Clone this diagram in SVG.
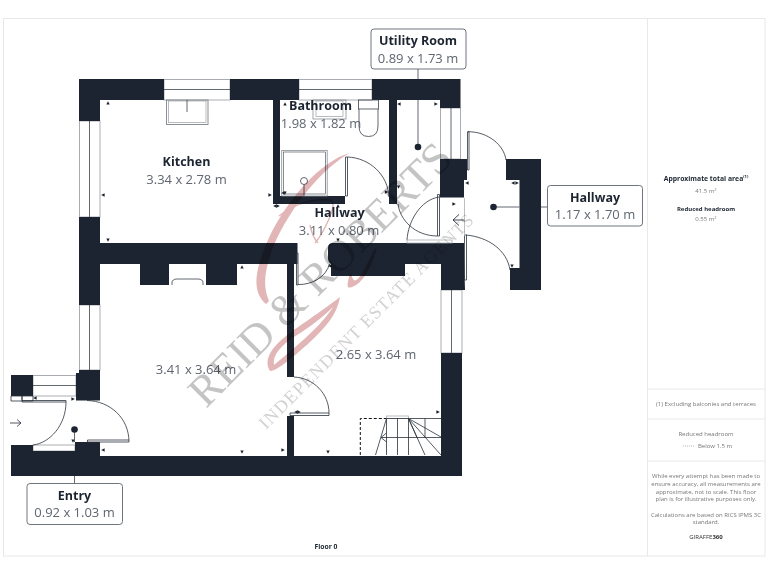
<svg xmlns="http://www.w3.org/2000/svg" width="768" height="576" viewBox="0 0 768 576">
<style>
.w{fill:#1b2430}
.g{fill:#fff;stroke:#a9adb2;stroke-width:1}
.l{fill:none;stroke:#3a424d;stroke-width:.8}
.e{fill:none;stroke:#e8e8e8;stroke-width:1}
text{font-family:"Open Sans","Liberation Sans",sans-serif;text-anchor:middle}
.n{font-size:12.5px;font-weight:700;fill:#1b2430}
.d{font-size:13px;fill:#5f6670}
.b{fill:#fff;stroke:#4a525c;stroke-width:.8}
.s{font-size:6px;fill:#777}
.h{font-size:6.8px;font-weight:700;fill:#1b2430}
.wm{font-family:"Liberation Serif",serif;fill:#c4c4c4}
.p{fill:#e2b5b7;stroke:none}
.ps{fill:none;stroke:#e2b5b7;stroke-width:1.4}
</style>
<defs>
<polygon id="tu" points="0,-1.8 -1.7,1.6 1.7,1.6" fill="#1b2430"/>
<polygon id="td" points="0,1.8 -1.7,-1.6 1.7,-1.6" fill="#1b2430"/>
<polygon id="tl" points="-1.8,0 1.6,-1.7 1.6,1.7" fill="#1b2430"/>
<polygon id="tr" points="1.8,0 -1.6,-1.7 -1.6,1.7" fill="#1b2430"/>
</defs>
<rect width="768" height="576" fill="#fff"/>
<g id="sheet">
<rect class="e" x="3.5" y="18.5" width="761.5" height="537.5"/>
<path class="e" d="M647.5 18V556M647.5 389H765M647.5 419H765M647.5 461H765"/>
</g>
<g id="windows">
<rect class="g" x="164" y="79.5" width="66" height="20.5"/><path class="l" d="M164 89.5H230"/>
<rect class="g" x="79.5" y="121" width="20.5" height="96"/><path class="l" d="M89.5 121V217"/>
<rect class="g" x="299" y="79.5" width="73" height="20.5"/><path class="l" d="M299 89.5H372"/>
<rect class="g" x="440.5" y="108" width="20" height="51"/><path class="l" d="M451 108V159"/>
<rect class="g" x="441" y="290" width="21" height="63"/><path class="l" d="M451.5 290V353"/>
<rect class="g" x="79.5" y="305" width="20.5" height="65"/><path class="l" d="M89.5 305V370"/>
<rect class="g" x="33" y="375.5" width="43" height="20.5"/><path class="l" d="M33 385.5H76"/>
<rect class="g" x="33" y="445" width="42" height="6"/>
</g>
<g id="walls">
<path class="w" d="M79 79H164V100H100V121H79Z"/>
<path class="w" d="M79 217H100V243H297.5V264H294V377H287V264H237V285H206V264H169V285H140V264H100V305H79Z"/>
<path class="w" d="M230 79H299V100H280V196H345V204H273V100H230Z"/>
<path class="w" d="M372 79H460.5V108H440V100H397V204H389V100H372Z"/>
<path class="w" d="M440 159H467V180H464V197.5H440Z"/>
<path class="w" d="M506 159H541V290H510V268H519.5V180H506Z"/>
<path class="w" d="M328 248Q328 243 333 243H464V256L465 290H441V264H405V276H331V264Q328 262 328 258Z"/>
<path class="w" d="M79 370H100V400.5H76V373H79Z"/>
<rect class="w" x="11" y="375" width="22" height="21"/>
<path class="w" d="M441 353H462V476H11V445H33V451H75V442H100V456H287V416H294V456H441Z"/>
</g>
<g id="doors" fill="none" stroke="#2a323c" stroke-width=".8">
<path d="M345.5 157H347.5V196H345.5ZM347.5 157C370 158 388 175 389 197"/>
<path d="M398 204C400 220 415 236 437.5 236"/>
<path d="M437.5 194.5H439.5V236H437.5ZM439 197C420 200 408 222 407 240"/>
<rect x="407" y="240" width="45" height="3" stroke="#a9adb2"/>
<path d="M467.5 131.7H469V170H467.5ZM468 131.7C488 131.7 504 145 506 160"/>
<path d="M464.5 235H466.5V280H464.5ZM466 235C488 237 507 250 510 270"/>
<path d="M296.5 253H298V285H296.5ZM298 284.5C312 285 326 277 329.5 264"/>
<path d="M290 413H329V415.5H290ZM294 377C314 378 329 394 329 413"/>
<path d="M11 396H33V401H11ZM22 396V400.5H66V402H22ZM66 402C66 425 50 443 33 445"/>
<path d="M87 400.5C110 401 129 418 129 442H87.5V440H129"/>
<path d="M10 423H21M17 419.5L21 423L17 426.5"/>
<path d="M465 220H453M459 214.5L453 220L459 225.5" stroke-width=".9"/>
<path d="M464.5 198V236" stroke="#a9adb2"/>
</g>
<g id="fixtures" fill="none" stroke="#3a424d" stroke-width=".8">
<rect x="166.5" y="100" width="41.5" height="24.5" stroke="#8a8f95" stroke-width="1"/><rect x="168.5" y="101" width="37.5" height="21.5" stroke="#8a8f95" stroke-width=".6"/><path d="M187 100V112"/>
<path d="M172 285V283Q172 279 177 279H198Q203 279 203 283V285"/>
<rect x="358.5" y="100" width="20" height="9"/><path d="M359 109V126Q359 136.5 368.5 136.5Q378 136.5 378 126V109"/>
<rect x="313" y="100" width="33" height="19" stroke="#8a8f95"/><rect x="316" y="101" width="27" height="15.5" stroke="#8a8f95" stroke-width=".6"/>
<rect x="281.7" y="150.5" width="45.5" height="45.5" stroke="#8a8f95"/><rect x="283.5" y="152" width="42" height="42" stroke-width=".6"/>
<circle cx="304" cy="181" r="3.5"/><path d="M304 184.5V196"/>
</g>
<g id="stairs" fill="none" stroke="#2a323c" stroke-width=".8">
<path d="M360.3 455V418.5H386" stroke-dasharray="3 2" stroke="#111" stroke-width="1"/>
<rect x="386.5" y="416" width="22" height="2.5" stroke="#a9adb2"/>
<path d="M386.5 418.5H441M381 437.5H441M386.5 418.5V455M397.5 418.5V455M408.5 418.5V455M425 418.5V437.5M408.5 418.5L441 437M408.5 418.5L441 455M408.5 418.5L425 455M408.5 418.5L417 437.5M386.5 418.5L375.5 455M386.5 433L381 437.5L386.5 442"/>
</g>
<g id="ticks">
<use href="#tu" x="108" y="103"/><use href="#td" x="108" y="240"/><use href="#tl" x="103" y="195"/><use href="#tr" x="270" y="195"/>
<use href="#tl" x="275" y="206"/><use href="#tr" x="278" y="206"/>
<use href="#tu" x="285" y="104"/><use href="#td" x="285" y="193"/><use href="#tl" x="283" y="193"/>
<use href="#tu" x="338" y="206"/><use href="#td" x="338" y="240"/><use href="#td" x="398.5" y="187"/><use href="#tr" x="386.5" y="192"/>
<use href="#tl" x="399" y="104"/><use href="#tr" x="436" y="104"/><use href="#tl" x="467" y="183"/><use href="#tr" x="454" y="204"/>
<use href="#tl" x="513" y="183"/><use href="#tr" x="517" y="183"/><use href="#td" x="512" y="266"/><use href="#tl" x="330" y="266"/>
<use href="#tu" x="242" y="267"/><use href="#tl" x="103" y="450"/><use href="#td" x="242" y="452"/><use href="#tr" x="283" y="450"/>
<use href="#tr" x="438" y="412"/><use href="#td" x="328" y="452"/><use href="#tl" x="296" y="412"/><use href="#tr" x="299" y="412"/>
<use href="#tl" x="35" y="398"/><use href="#tr" x="73" y="399"/><use href="#td" x="73" y="441"/>
</g>
<g id="connectors">
<path fill="none" stroke="#3a424d" stroke-width=".8" d="M418 69V79M418 100V147M493 207H519.5M541 207H547.5M74.5 429.5V442M74.5 476V483"/>
<circle cx="418" cy="147" r="3.3" fill="#1b2430"/>
<circle cx="493.5" cy="207" r="3.3" fill="#1b2430"/>
<circle cx="74.5" cy="429.5" r="3.3" fill="#1b2430"/>
</g>
<g id="room-kitchen"><text class="n" x="186.5" y="166">Kitchen</text><text class="d" x="186.5" y="184">3.34 x 2.78 m</text></g>
<g id="room-bathroom"><text class="n" x="320.5" y="110">Bathroom</text><text class="d" x="321" y="128">1.98 x 1.82 m</text></g>
<g id="room-hallway"><text class="n" x="339.5" y="217">Hallway</text><text class="d" x="339" y="235">3.11 x 0.80 m</text></g>
<g id="room-left"><text class="d" x="196" y="374">3.41 x 3.64 m</text></g>
<g id="room-right"><text class="d" x="376" y="359">2.65 x 3.64 m</text></g>
<g id="label-utility"><rect class="b" x="371" y="29" width="95" height="40" rx="3"/><text class="n" x="418" y="45">Utility Room</text><text class="d" x="418" y="63">0.89 x 1.73 m</text></g>
<g id="label-hallway"><rect class="b" x="547.5" y="185.5" width="95" height="40.5" rx="3"/><text class="n" x="595" y="202">Hallway</text><text class="d" x="595" y="219">1.17 x 1.70 m</text></g>
<g id="label-entry"><rect class="b" x="27" y="483.5" width="95.5" height="41" rx="3"/><text class="n" x="74.5" y="500">Entry</text><text class="d" x="74.5" y="517">0.92 x 1.03 m</text></g>
<g id="watermark" style="mix-blend-mode:multiply">
<path class="p" d="M350 153C322 160 286 200 268 240C254 272 252 292 266 304L269 301C262 285 265 268 274 245C290 208 322 168 350 153Z"/>
<path class="ps" d="M279 216C295 203 315 198 330 200C340 202 322 235 315 243"/>
<path class="p" d="M377 247C372 270 360 285 352 287C344 290 349 280 350 272L353 279C355 283 360 278 365 268C370 258 373 250 377 247Z"/>
<path class="p" d="M340 297C330 305 305 322 290 333C275 344 262 358 270 371C276 372 296 355 310 342C325 328 337 315 340 297ZM333 307C322 325 298 345 274 365C272 355 282 345 294 337C310 327 323 317 333 307Z"/>
<path class="ps" d="M310 225C312 235 315 240 318 243"/>
<text class="wm" font-size="44" textLength="352" lengthAdjust="spacing" style="text-anchor:start" transform="translate(206 409) rotate(-45)">REID &amp; ROBERTS</text>
<text class="wm" font-size="18" textLength="295" lengthAdjust="spacing" style="text-anchor:start;fill:#d2d2d2" transform="translate(266 430) rotate(-45)">INDEPENDENT ESTATE AGENTS</text>
</g>
<g id="sidebar">
<text class="h" x="706" y="180.5">Approximate total area<tspan font-size="4" dy="-3">(1)</tspan></text>
<text class="s" x="706" y="193">41.5 m<tspan font-size="4" dy="-2">2</tspan></text>
<text class="h" x="706" y="211" style="font-size:6px">Reduced headroom</text>
<text class="s" x="706" y="221">0.55 m<tspan font-size="4" dy="-2">2</tspan></text>
<text class="s" x="706" y="406">(1) Excluding balconies and terraces</text>
<text class="s" x="706" y="436">Reduced headroom</text>
<path d="M683 446H695" stroke="#999" stroke-width=".7" stroke-dasharray="1 1"/>
<text class="s" x="715" y="448">Below 1.5 m</text>
<text class="s" x="706" y="478">While every attempt has been made to</text>
<text class="s" x="706" y="486">ensure accuracy, all measurements are</text>
<text class="s" x="706" y="493.5">approximate, not to scale. This floor</text>
<text class="s" x="706" y="501">plan is for illustrative purposes only.</text>
<text class="s" x="706" y="516.5">Calculations are based on RICS IPMS 3C</text>
<text class="s" x="706" y="524">standard.</text>
<text class="s" x="706" y="539" style="fill:#333">GIRAFFE<tspan font-weight="700">360</tspan></text>
</g>
<g id="floor"><text class="h" x="326" y="549">Floor 0</text></g>
</svg>
